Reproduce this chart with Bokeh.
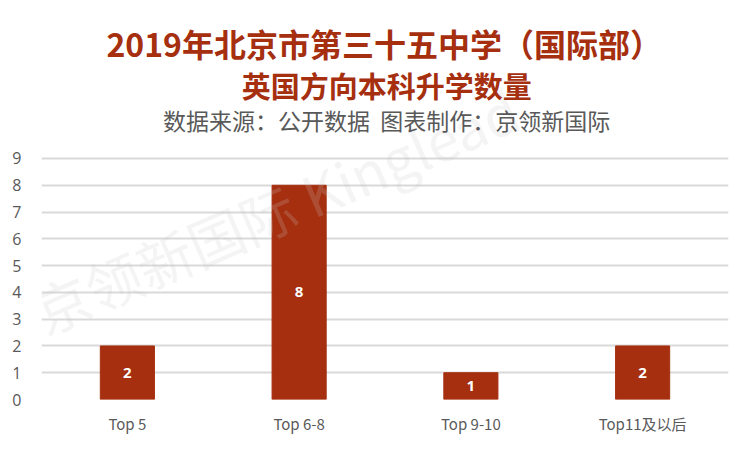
from bokeh.plotting import figure
from bokeh.models import ColumnDataSource, Label, LabelSet, FixedTicker
from bokeh.core.properties import value
from bokeh.embed import file_html
from bokeh.resources import INLINE

categories = ["Top 5", "Top 6-8", "Top 9-10", "Top11及以后"]
counts = [2, 8, 1, 2]
y_ticks = [0, 1, 2, 3, 4, 5, 6, 7, 8, 9]

title1 = "2019年北京市第三十五中学（国际部）"
title2 = "英国方向本科升学数量"
subtitle = "数据来源：公开数据\u00a0\u00a0图表制作：京领新国际"
watermark = "京领新国际 Kinglead"

RED = "#A52F0F"
CJK = "Noto Sans CJK SC"
LAT = "Open Sans"

src = ColumnDataSource(dict(cat=categories, n=counts,
                            mid=[c / 2 for c in counts],
                            lab=[str(c) for c in counts]))

# frame reaches the top of the canvas so the heading texts are not clipped;
# the axis/grid only use ticks 0..9
p = figure(x_range=categories, y_range=(0, 14.9), width=751, height=452,
           output_backend="svg", toolbar_location=None,
           min_border_left=41, min_border_right=23, min_border_top=0,
           min_border_bottom=53)
p.outline_line_color = None
p.background_fill_color = "white"
p.border_fill_color = "white"

p.xgrid.grid_line_color = None
p.ygrid.grid_line_color = "#d9d9d9"
p.ygrid.grid_line_width = 2
p.yaxis.ticker = FixedTicker(ticks=y_ticks)

# watermark
p.add_layout(Label(x=1.36, y=7.1, text=watermark, text_align="center",
                   text_baseline="middle", text_color="#c8c8c8",
                   text_alpha=0.2, angle=0.41,
                   text_font=CJK, text_font_size="56px"))

p.vbar(x="cat", top="n", width=0.315, source=src, color=RED)

p.add_layout(LabelSet(x="cat", y="mid", text="lab", source=src,
                      text_align="center", text_baseline="middle",
                      text_color="white", text_font=value(LAT),
                      text_font_style="bold", text_font_size="15px"))

for ax in (p.xaxis, p.yaxis):
    ax.axis_line_color = None
    ax.major_tick_line_color = None
    ax.minor_tick_line_color = None
    ax.major_label_text_color = "#595959"
    ax.major_label_text_font = LAT
p.yaxis.major_label_text_font_size = "16px"
p.yaxis.major_label_standoff = 14
p.xaxis.major_label_text_font_size = "15px"
p.xaxis.major_label_standoff = 7
p.xaxis.major_label_text_font = CJK

# headings (data units: 26.78 px per unit)
p.add_layout(Label(x=1.995, y=13.3, text=title1, text_align="center",
                   text_baseline="middle", text_color=RED,
                   text_font=CJK, text_font_style="bold",
                   text_font_size="32px"))
p.add_layout(Label(x=2.01, y=11.74, text=title2, text_align="center",
                   text_baseline="middle", text_color=RED,
                   text_font=CJK, text_font_style="bold",
                   text_font_size="29px"))
p.add_layout(Label(x=2.01, y=10.45, text=subtitle, text_align="center",
                   text_baseline="middle", text_color="#595959",
                   text_font=CJK, text_font_size="23px"))

open("out.html", "w").write(file_html(p, INLINE))
